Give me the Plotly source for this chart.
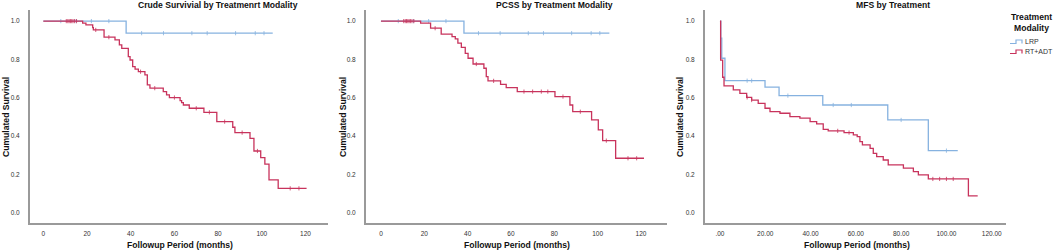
import plotly.graph_objects as go
import numpy as np

# ---------------- data ----------------
# Panel 1: Crude survival
cs_lrp_t = [0, 37.9]
cs_lrp_s = [1.0, 0.937]
cs_lrp_end = 105.0
cs_lrp_cens = [8, 15, 22, 30, 45, 55, 68, 75, 88, 97, 101]

cs_rt_t = [0, 18.0, 19.5, 22.6, 22.9, 27.8, 32.8, 34.8, 35.9, 38.9, 39.7, 40.9, 42.0, 43.5,
           46.5, 47.6, 48.8, 54.9, 56.4, 57.7, 62.6, 63.3, 64.1, 66.8, 73.5, 79.4, 86.7,
           87.7, 94.6, 96.4, 99.5, 101.4, 103.3, 107.5]
cs_rt_s = [1.0, 0.99, 0.98, 0.966, 0.954, 0.916, 0.902, 0.876, 0.858, 0.815, 0.797, 0.762,
           0.749, 0.736, 0.719, 0.667, 0.650, 0.632, 0.615, 0.601, 0.585, 0.574, 0.562, 0.545,
           0.524, 0.475, 0.446, 0.418, 0.388, 0.322, 0.287, 0.253, 0.171, 0.127]
cs_rt_end = 120.5
cs_rt_cens = [10.5, 11.2, 11.8, 12.4, 13.0, 13.6, 14.3, 15.2, 24, 30, 44.5, 51, 60, 70, 76,
              83, 91, 98, 113, 117]

# Panel 2: PCSS
pc_lrp_t = [0, 38.3]
pc_lrp_s = [1.0, 0.937]
pc_lrp_end = 105.4
pc_lrp_cens = [8, 15, 22, 30, 45, 55, 68, 75, 88, 97, 101]

pc_rt_t = [0, 18.3, 22.9, 27.8, 32.8, 34.3, 35.5, 37.1, 38.9, 40.2, 42.5, 47.5, 48.6, 49.4,
           55.2, 57.8, 62.9, 80.3, 87.2, 88.5, 97.2, 100.3, 102.3, 108.3]
pc_rt_s = [1.0, 0.99, 0.963, 0.932, 0.919, 0.907, 0.885, 0.863, 0.832, 0.806, 0.776, 0.754,
           0.710, 0.688, 0.670, 0.653, 0.632, 0.606, 0.562, 0.527, 0.484, 0.432, 0.376, 0.284]
pc_rt_end = 121.4
pc_rt_cens = [10.5, 11.2, 11.8, 12.4, 13.0, 13.6, 14.3, 15.2, 25, 44, 52, 66, 70, 74, 77,
              84, 92, 104, 114, 118]

# Panel 3: MFS
mf_lrp_t = [0, 0.4, 0.8, 2.2, 19.9, 26.1, 45.4, 74.1, 92.0]
mf_lrp_s = [1.0, 0.911, 0.806, 0.689, 0.655, 0.611, 0.562, 0.484, 0.324]
mf_lrp_end = 105.0
mf_lrp_cens = [12, 14, 30, 50, 58, 80, 100]

mf_rt_t = [0, 0.3, 1.2, 1.8, 5.9, 8.8, 11.8, 14.0, 16.9, 19.9, 22.1, 26.5, 30.9, 35.3, 39.8,
           42.7, 45.6, 47.8, 54.8, 58.9, 60.6, 61.8, 62.9, 66.3, 67.7, 69.2, 72.1, 74.3, 81.0,
           85.4, 87.6, 92.0, 109.7]
mf_rt_s = [1.0, 0.796, 0.707, 0.662, 0.641, 0.623, 0.602, 0.588, 0.571, 0.545, 0.527, 0.519,
           0.501, 0.493, 0.475, 0.463, 0.435, 0.427, 0.418, 0.406, 0.397, 0.371, 0.354, 0.336,
           0.310, 0.292, 0.275, 0.249, 0.232, 0.214, 0.197, 0.176, 0.088]
mf_rt_end = 113.8
mf_rt_cens = [12, 14, 52, 57, 94, 97, 100, 103]

titles = ["Crude Survivial by Treatmenrt Modality", "PCSS by Treatment Modality", "MFS by Treatment"]
groups = ["LRP", "RT+ADT"]
legend_title = "Treatment<br>Modality"
x_ticks_12 = [0, 20, 40, 60, 80, 100, 120]
x_ticks_3 = [0, 20, 40, 60, 80, 100, 120]
x_ticktext_3 = [".00", "20.00", "40.00", "60.00", "80.00", "100.00", "120.00"]
y_ticks = [0.0, 0.2, 0.4, 0.6, 0.8, 1.0]

BLUE = "#86B2E0"
RED = "#C8335C"
FONT = "Liberation Sans, Arial, sans-serif"
TSIZE = 8.6

W, H = 1053, 252

def step_xy(t, s, end):
    return list(t) + [end], list(s) + [s[-1]]

def s_at(t, s, times):
    t = np.asarray(t); s = np.asarray(s)
    idx = np.searchsorted(t, times, side="right") - 1
    return s[idx].tolist()

fig = go.Figure()

panels = [
    dict(lrp=(cs_lrp_t, cs_lrp_s, cs_lrp_end, cs_lrp_cens), rt=(cs_rt_t, cs_rt_s, cs_rt_end, cs_rt_cens),
         px=(30, 328), xr=(-6.1, 130.3), tickvals=x_ticks_12, ticktext=[str(v) for v in x_ticks_12],
         ytitle_x=6, xtitle_x=180, title_x=217.5),
    dict(lrp=(pc_lrp_t, pc_lrp_s, pc_lrp_end, pc_lrp_cens), rt=(pc_rt_t, pc_rt_s, pc_rt_end, pc_rt_cens),
         px=(366, 667), xr=(-6.9, 132.0), tickvals=x_ticks_12, ticktext=[str(v) for v in x_ticks_12],
         ytitle_x=343, xtitle_x=517, title_x=554.5),
    dict(lrp=(mf_lrp_t, mf_lrp_s, mf_lrp_end, mf_lrp_cens), rt=(mf_rt_t, mf_rt_s, mf_rt_end, mf_rt_cens),
         px=(705, 1006), xr=(-6.6, 126.3), tickvals=x_ticks_3, ticktext=x_ticktext_3,
         ytitle_x=680, xtitle_x=857, title_x=893),
]

y_top_px, y_bot_px = 10, 223
yr = (-0.054, 1.058)

annotations = []
for i, p in enumerate(panels):
    xa = "x" if i == 0 else f"x{i+1}"
    ya = "y" if i == 0 else f"y{i+1}"
    for key, name, col in [("lrp", groups[0], BLUE), ("rt", groups[1], RED)]:
        t, s, end, cens = p[key]
        xs, ys = step_xy(t, s, end)
        fig.add_trace(go.Scatter(x=xs, y=ys, mode="lines", line=dict(color=col, width=1.3, shape="hv"),
                                 name=name, showlegend=False,
                                 xaxis=xa, yaxis=ya, hoverinfo="skip"))
        fig.add_trace(go.Scatter(x=cens, y=s_at(t, s, cens), mode="markers",
                                 marker=dict(symbol="line-ns", size=3, line=dict(color=col, width=0.8)),
                                 showlegend=False, xaxis=xa, yaxis=ya, hoverinfo="skip"))
    axis_common = dict(showline=True, linecolor="#9a9a9a", linewidth=2, showgrid=False, zeroline=False,
                       ticks="", tickfont=dict(family=FONT, size=6.5, color="#333"))
    xk = "xaxis" if i == 0 else f"xaxis{i+1}"
    yk = "yaxis" if i == 0 else f"yaxis{i+1}"
    fig.update_layout(**{
        xk: dict(axis_common, domain=[p["px"][0] / W, p["px"][1] / W], range=list(p["xr"]),
                 tickvals=p["tickvals"], ticktext=p["ticktext"], anchor=ya, ticklabelstandoff=3),
        yk: dict(axis_common, domain=[1 - y_bot_px / H, 1 - y_top_px / H], range=list(yr),
                 tickvals=y_ticks, tickformat=".1f", anchor=xa, ticklabelstandoff=7),
    })
    annotations.append(dict(text=f"<b>{titles[i]}</b>", x=p["title_x"] / W, y=1 - 5 / H, xref="paper", yref="paper",
                            showarrow=False, font=dict(family=FONT, size=TSIZE, color="#111"),
                            xanchor="center", yanchor="middle"))
    annotations.append(dict(text="<b>Followup Period (months)</b>", x=p["xtitle_x"] / W, y=1 - 245 / H,
                            xref="paper", yref="paper", showarrow=False,
                            font=dict(family=FONT, size=TSIZE, color="#111"), xanchor="center", yanchor="middle"))
    annotations.append(dict(text="<b>Cumulated Survival</b>", x=p["ytitle_x"] / W, y=1 - 117 / H,
                            xref="paper", yref="paper", showarrow=False, textangle=-90,
                            font=dict(family=FONT, size=TSIZE, color="#111"), xanchor="center", yanchor="middle"))

# manual legend (step-shaped icons like the reference)
shapes = []
annotations.append(dict(text=f"<b>{legend_title}</b>", x=1031.5 / W, y=1 - 22 / H, xref="paper", yref="paper",
                        showarrow=False, font=dict(family=FONT, size=TSIZE, color="#111"),
                        xanchor="center", yanchor="middle", align="center"))
for j, (name, col) in enumerate([(groups[0], BLUE), (groups[1], RED)]):
    yc = 42 + 10 * j
    pts = [(1010, yc + 1.5), (1016, yc + 1.5), (1016, yc - 2), (1022, yc - 2), (1022, yc + 1.5)]
    path = "M " + " L ".join(f"{x / W:.5f},{1 - y / H:.5f}" for x, y in pts)
    shapes.append(dict(type="path", path=path, xref="paper", yref="paper", line=dict(color=col, width=1.2)))
    annotations.append(dict(text=name, x=1023 / W, y=1 - yc / H, xref="paper", yref="paper", showarrow=False,
                            font=dict(family=FONT, size=7, color="#333"), xanchor="left", yanchor="middle"))

fig.update_layout(
    width=W, height=H, margin=dict(l=0, r=0, t=0, b=0),
    paper_bgcolor="white", plot_bgcolor="white",
    annotations=annotations, shapes=shapes, showlegend=False,
    font=dict(family=FONT),
)

fig.write_html("out.html", config={"displayModeBar": False},
               post_script="document.body.style.margin='0';document.body.style.overflow='hidden';")
